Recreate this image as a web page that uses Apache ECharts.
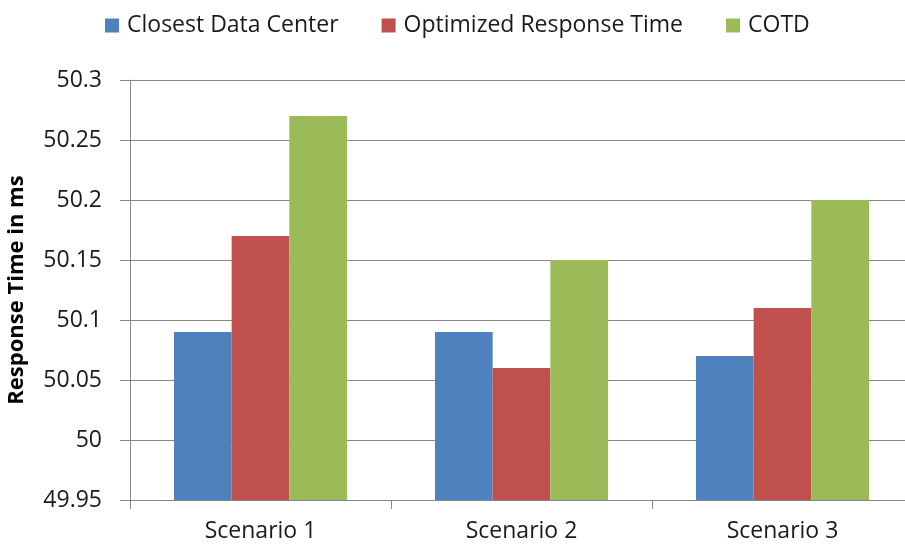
<!DOCTYPE html>
<html>
<head>
<meta charset="utf-8">
<script src="https://cdn.jsdelivr.net/npm/echarts@6/dist/echarts.min.js"></script>
<style>
  html, body { margin: 0; padding: 0; background: #fff; }
  #chart { width: 905px; height: 544px; }
</style>
</head>
<body>
<div id="chart"></div>
<script>
const categories = ['Scenario 1', 'Scenario 2', 'Scenario 3']
const seriesNames = ['Closest Data Center', 'Optimized Response Time', 'COTD']
const closestDataCenter = [50.09, 50.09, 50.07]
const optimizedResponse = [50.17, 50.06, 50.11]
const cotd = [50.27, 50.15, 50.20]
const colors = ['#4F81BD', '#C0504D', '#9BBB59']

const FONT = '"Open Sans", sans-serif'
const axisGray = '#878787'

const chart = echarts.init(document.getElementById('chart'))

const values = [closestDataCenter, optimizedResponse, cotd]

chart.setOption({
  animation: false,
  textStyle: { fontFamily: FONT },
  legend: {
    left: 105,
    top: 14,
    padding: 0,
    icon: 'rect',
    itemWidth: 14,
    itemHeight: 14,
    itemGap: 43,
    textStyle: {
      fontFamily: FONT,
      fontSize: 23,
      color: '#1a1a1a',
      padding: [0, 0, 0, 3]
    },
    data: seriesNames
  },
  grid: {
    left: 130,
    right: -8,
    top: 80,
    bottom: 44,
    outerBoundsMode: 'none'
  },
  xAxis: {
    type: 'category',
    data: categories,
    axisLine: { lineStyle: { color: axisGray, width: 1 } },
    axisTick: { show: true, length: 9, lineStyle: { color: axisGray } },
    axisLabel: {
      fontFamily: FONT,
      fontSize: 23,
      color: '#1a1a1a',
      margin: 20
    }
  },
  yAxis: {
    type: 'value',
    min: 49.95,
    max: 50.3,
    interval: 0.05,
    name: 'Response Time in ms',
    nameLocation: 'middle',
    nameGap: 102,
    nameTextStyle: {
      fontFamily: FONT,
      fontSize: 22,
      fontWeight: 'bold',
      color: '#000'
    },
    axisLine: { show: true, lineStyle: { color: axisGray, width: 1 } },
    axisTick: { show: true, length: 10, lineStyle: { color: axisGray } },
    splitLine: { lineStyle: { color: axisGray, width: 1 } },
    axisLabel: {
      fontFamily: FONT,
      fontSize: 23,
      color: '#1a1a1a',
      margin: 28,
      formatter: v => String(Math.round(v * 100) / 100)
    }
  },
  series: seriesNames.map((name, i) => ({
    name: name,
    type: 'bar',
    data: values[i],
    barWidth: 57.7,
    barGap: '0%',
    itemStyle: { color: colors[i] }
  }))
})
</script>
</body>
</html>
